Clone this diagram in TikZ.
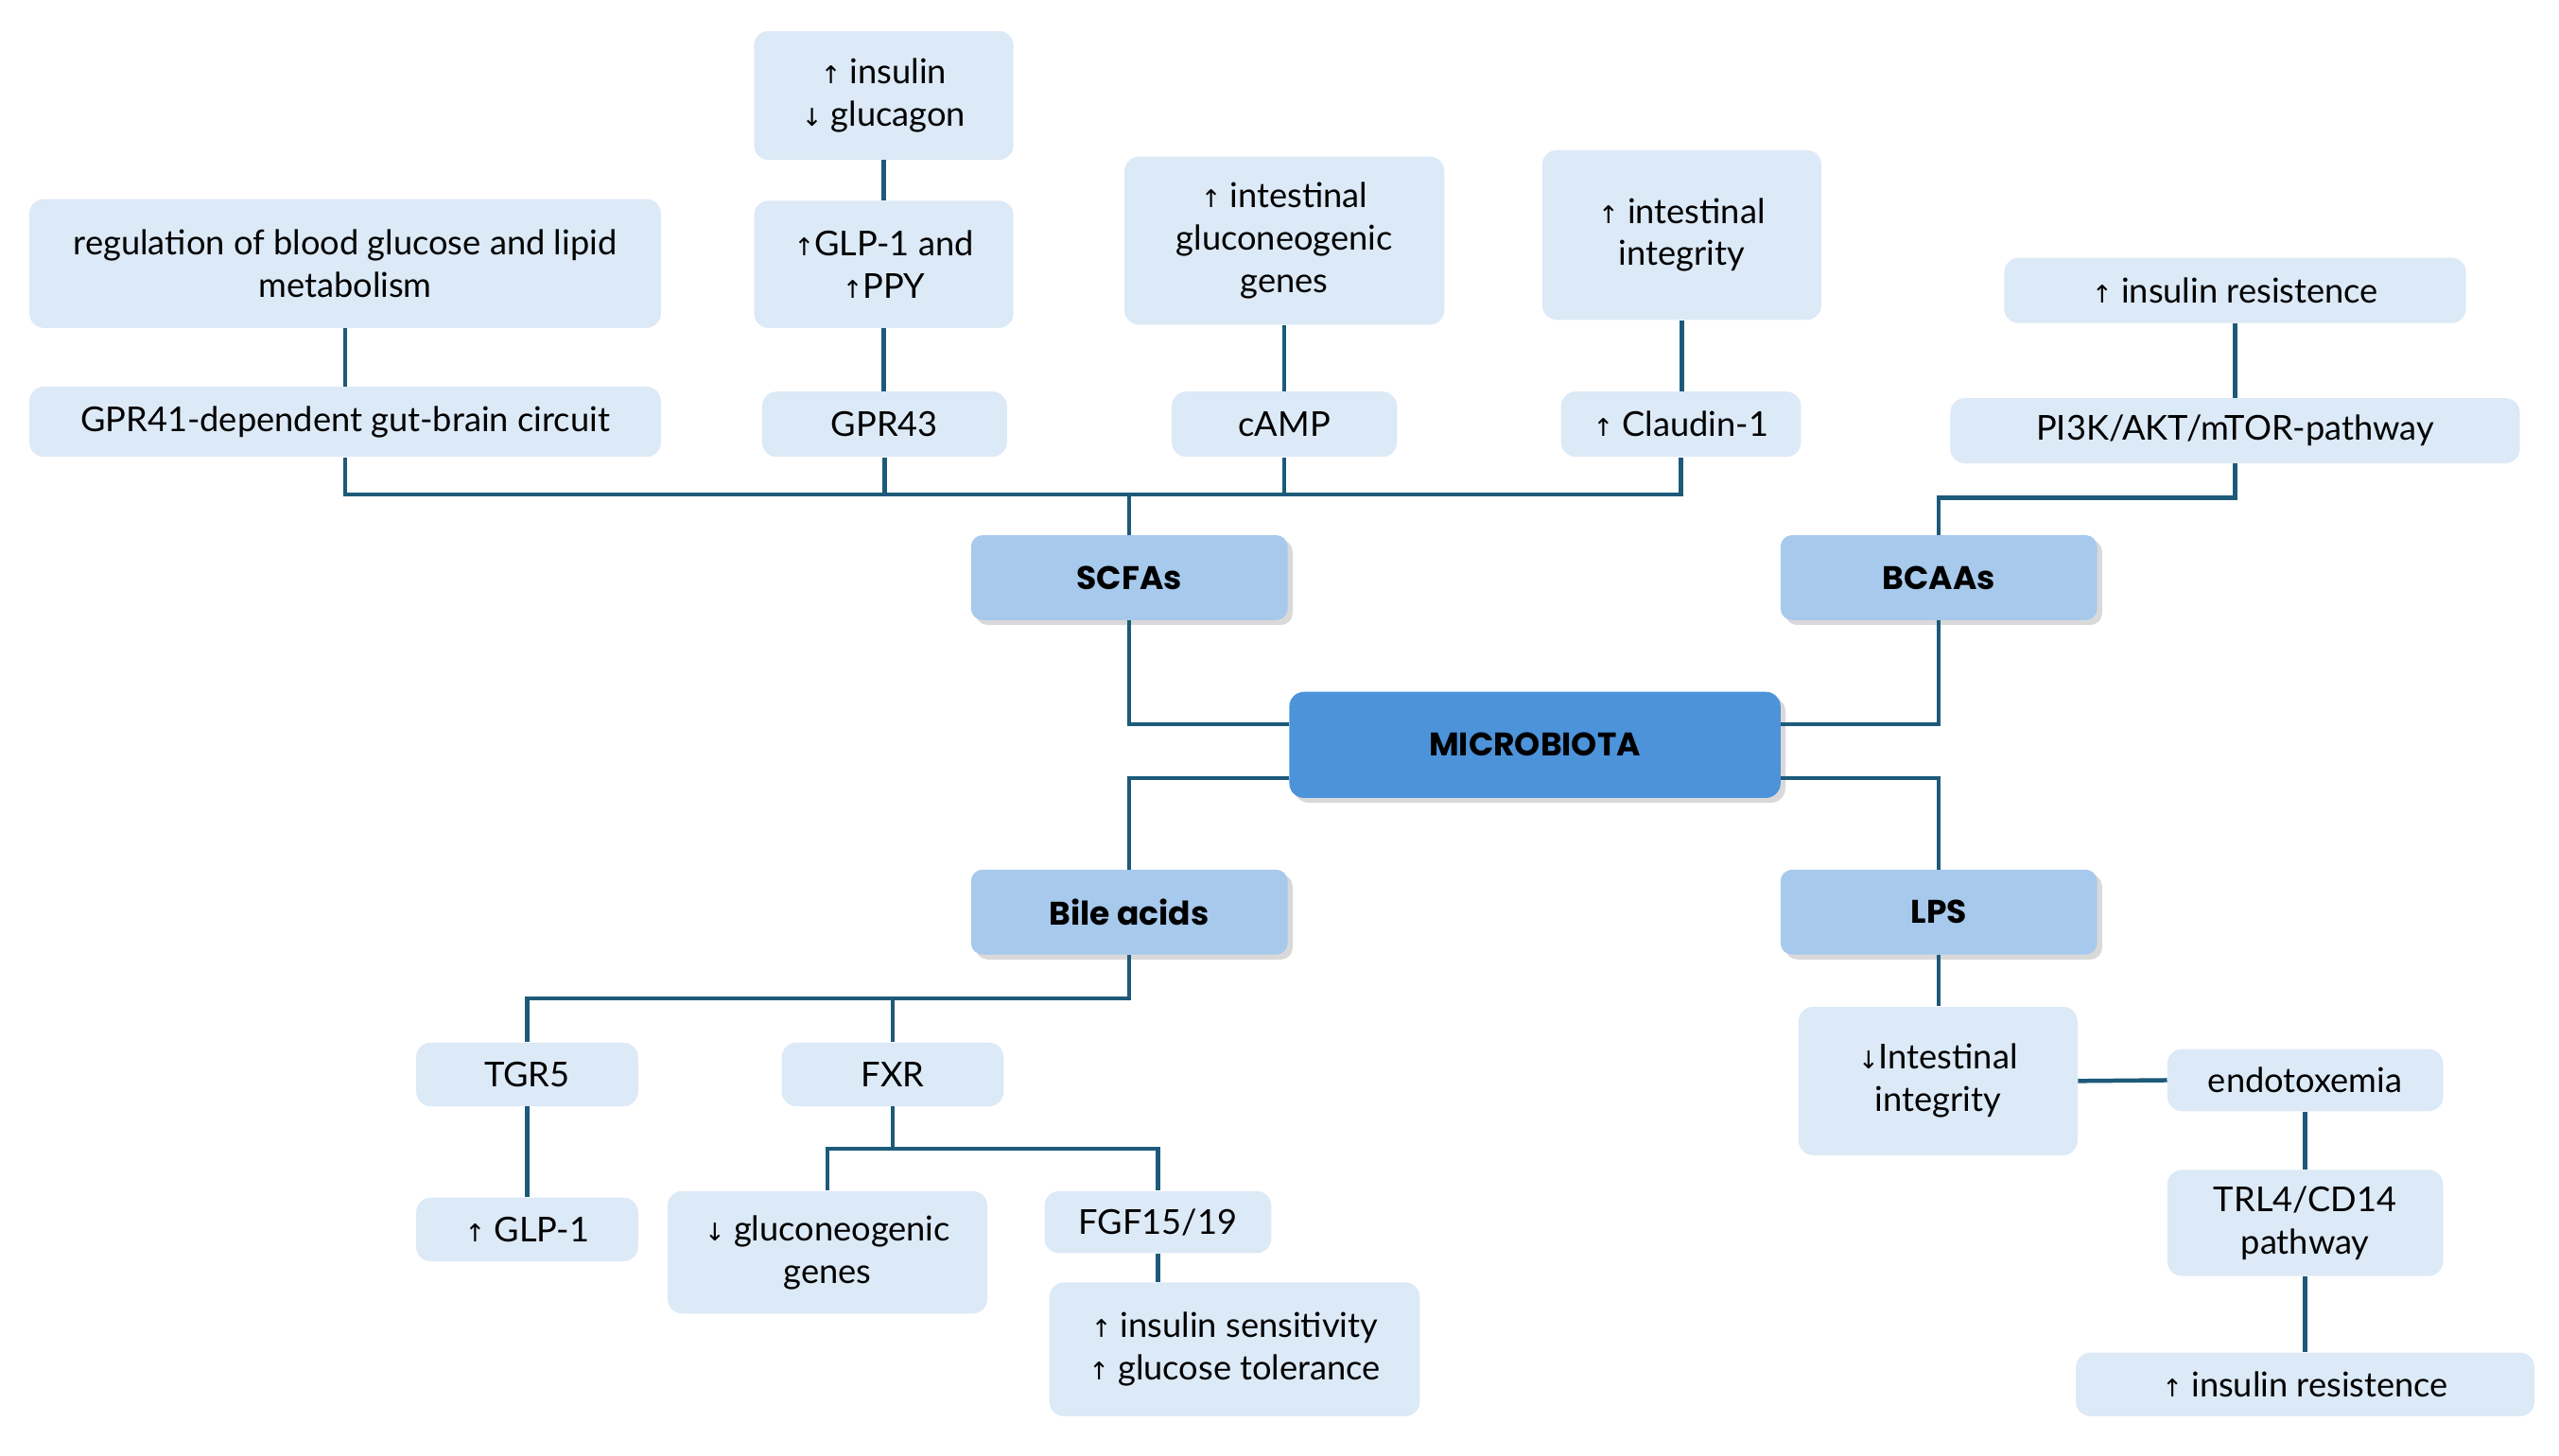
\documentclass[tikz,border=0pt]{standalone}
\usepackage{fontspec}
\setmainfont{Lato}
\newfontfamily\arrfont{DejaVu Sans}
\newfontfamily\headfont{Poppins}
\usetikzlibrary{shadows}
\definecolor{lightbox}{HTML}{DCE9F6}
\definecolor{midbox}{HTML}{A7C9EC}
\definecolor{darkbox}{HTML}{4C93DA}
\definecolor{linec}{HTML}{1D5A7A}
\newcommand{\uparr}{{\arrfont\fontsize{15}{15}\selectfont ↑}}
\newcommand{\dnarr}{{\arrfont\fontsize{15}{15}\selectfont ↓}}
\tikzset{
  sz/.style 2 args={minimum width=#1pt, minimum height=#2pt},
  lbox/.style={fill=lightbox, rounded corners=9pt, align=center, inner sep=0pt,
    font=\fontsize{21}{26}\selectfont},
  mbox/.style={fill=midbox, rounded corners=7pt, inner sep=0pt, align=center,
    font=\headfont\bfseries\fontsize{20}{22}\selectfont,
    drop shadow={shadow xshift=3pt, shadow yshift=-3pt, opacity=0.3}},
  dbox/.style={mbox, fill=darkbox, rounded corners=9pt},
  conn/.style={draw=linec, line width=2.6pt}
}
\begin{document}
\begin{tikzpicture}[x=1pt,y=1pt]
\useasboundingbox (0,0) rectangle (1568,-892);
% top
\node[lbox, sz={159}{79}] (ins) at (541.5,-58.5) {\uparr\ insulin\\ \dnarr\ glucagon};
\node[lbox, sz={159}{78}] (glp) at (541.5,-162) {\uparr GLP-1 and\\ \uparr PPY};
\node[lbox, sz={387}{79}] (reg) at (211.5,-161.5) {regulation of blood glucose and lipid\\ metabolism};
\node[lbox, sz={387}{43}] (gpr41) at (211.5,-258.5) {GPR41-dependent gut-brain circuit};
\node[lbox, sz={150}{40}] (gpr43) at (542,-260) {GPR43};
\node[lbox, sz={196}{103}] (ign) at (787,-147.5) {\uparr\ intestinal\\ gluconeogenic\\ genes};
\node[lbox, sz={138}{40}] (camp) at (787,-260) {cAMP};
\node[lbox, sz={171}{104}] (iint) at (1030.5,-144) {\uparr\ intestinal\\ integrity};
\node[lbox, sz={147}{40}] (claud) at (1030,-260) {\uparr\ Claudin-1};
\node[lbox, sz={283}{40}] (bir) at (1369.5,-178) {\uparr\ insulin resistence};
\node[lbox, sz={349}{40}] (pi3k) at (1369.5,-264) {PI3K/AKT/mTOR-pathway};
% middle
\node[mbox, sz={194}{52}] (scfa) at (692,-354) {SCFAs};
\node[mbox, sz={194}{52}] (bcaa) at (1188,-354) {BCAAs};
\node[dbox, sz={301}{65}] (micro) at (940.5,-456.5) {MICROBIOTA};
\node[mbox, sz={194}{52}] (bile) at (692,-559) {Bile acids};
\node[mbox, sz={194}{52}] (lps) at (1188,-559) {LPS};
% bottom left
\node[lbox, sz={136}{39}] (tgr) at (323,-658.5) {TGR5};
\node[lbox, sz={136}{39}] (fxr) at (547,-658.5) {FXR};
\node[lbox, sz={136}{39}] (glp1) at (323,-753.5) {\uparr\ GLP-1};
\node[lbox, sz={196}{75}] (gng) at (507,-767.5) {\dnarr\ gluconeogenic\\ genes};
\node[lbox, sz={139}{38}] (fgf) at (709.5,-749) {FGF15/19};
\node[lbox, sz={227}{82}] (isens) at (756.5,-827) {\uparr\ insulin sensitivity\\ \uparr\ glucose tolerance};
% bottom right
\node[lbox, sz={171}{91}] (dint) at (1187.5,-662.5) {\dnarr Intestinal\\ integrity};
\node[lbox, sz={169}{38}] (endo) at (1412.5,-662) {endotoxemia};
\node[lbox, sz={169}{65}] (trl) at (1412.5,-749.5) {TRL4/CD14\\ pathway};
\node[lbox, sz={281}{39}] (lir) at (1412.5,-848.5) {\uparr\ insulin resistence};
% connectors top
\draw[conn] (ins.south) -- (glp.north);
\draw[conn] (glp.south) -- (gpr43.north -| glp.south);
\draw[conn] (reg.south) -- (gpr41.north);
\draw[conn] (ign.south) -- (camp.north);
\draw[conn] (iint.south) -- (claud.north -| iint.south);
\draw[conn] (bir.south) -- (pi3k.north);
\coordinate (sbus) at (0,-303);
\draw[conn] (gpr41.south) |- (claud.south |- sbus) -- (claud.south);
\draw[conn] (gpr43.south) -- (gpr43.south |- sbus);
\draw[conn] (camp.south) -- (camp.south |- sbus);
\draw[conn] (scfa.north) -- (scfa.north |- sbus);
\coordinate (bbus) at (0,-305);
\draw[conn] (pi3k.south) |- (bcaa.north |- bbus) -- (bcaa.north);
% center
\draw[conn] (scfa.south) |- ([yshift=12.5pt]micro.west);
\draw[conn] (bcaa.south) |- ([yshift=12.5pt]micro.east);
\draw[conn] ([yshift=-20.5pt]micro.west) -| (bile.north);
\draw[conn] ([yshift=-20.5pt]micro.east) -| (lps.north);
% bile acids
\coordinate (lbus) at (0,-612);
\draw[conn] (bile.south) |- (tgr.north |- lbus) -- (tgr.north);
\draw[conn] (fxr.north) -- (fxr.north |- lbus);
\draw[conn] (tgr.south) -- (glp1.north);
\coordinate (fbus) at (0,-704);
\draw[conn] (fxr.south) -- (fxr.south |- fbus);
\draw[conn] (gng.north) |- (fgf.north |- fbus) -- (fgf.north);
\draw[conn] (fgf.south) -- (fgf.south |- isens.north);
% LPS
\draw[conn] (lps.south) -- (dint.north -| lps.south);
\draw[conn] (dint.east) -- (endo.west);
\draw[conn] (endo.south) -- (trl.north);
\draw[conn] (trl.south) -- (lir.north);
\end{tikzpicture}
\end{document}
